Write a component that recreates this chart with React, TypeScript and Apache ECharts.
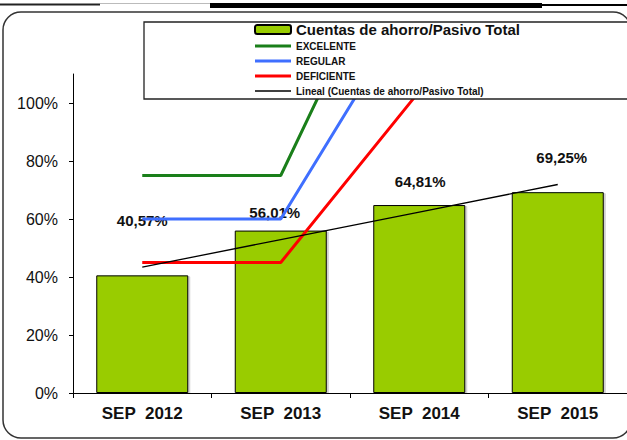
import React, { useEffect, useRef } from "react";
import * as echarts from "echarts";

const categories = ["SEP  2012", "SEP  2013", "SEP  2014", "SEP  2015"];
const ratioValues = [40.57, 56.01, 64.81, 69.25];
const excelente = [75, 75, 175, null];
const regular = [60, 60, 138, null];
const deficiente = [45, 45, 104, null];
const trendValues = [43.4, 52.9, 62.4, 71.9];
const yTicks = [0, 20, 40, 60, 80, 100];

const BAR_NAME = "Cuentas de ahorro/Pasivo Total";
const TREND_NAME = "Lineal (Cuentas de ahorro/Pasivo Total)";
const labelOffsets: [number, number][] = [
  [0, -42],
  [-6, -6],
  [1, -11.5],
  [4, -22.5],
];

const FONT = 'Arial, "Liberation Sans", sans-serif';
const THICK_LINE_ICON = "path://M0,0H36V3H0Z";
const THIN_LINE_ICON = "path://M0,0H36V1.4H0Z";

export default function App() {
  const ref = useRef<HTMLDivElement>(null);
  useEffect(() => {
    if (!ref.current) return;
    const chart = echarts.init(ref.current, null, { renderer: "svg" });
    const fmt = (v: number) => v.toFixed(2).replace(".", ",") + "%";
    chart.setOption({
      animation: false,
      textStyle: { fontFamily: FONT },
      grid: { left: 73, top: 74, width: 556, height: 319, containLabel: false },
      legend: {
        orient: "vertical",
        left: 254,
        top: 22,
        padding: 0,
        itemWidth: 36,
        itemHeight: 9,
        itemGap: 3,
        selectedMode: false,
        symbolKeepAspect: true,
        z: 5,
        textStyle: { fontFamily: FONT, fontWeight: "bold", fontSize: 10, color: "#111", lineHeight: 12 },
        data: [
          { name: BAR_NAME, textStyle: { fontSize: 15, fontWeight: "bold", lineHeight: 11 } },
          { name: "EXCELENTE", icon: THICK_LINE_ICON, itemStyle: { borderWidth: 0 } },
          { name: "REGULAR", icon: THICK_LINE_ICON, itemStyle: { borderWidth: 0 } },
          { name: "DEFICIENTE", icon: THICK_LINE_ICON, itemStyle: { borderWidth: 0 } },
          { name: TREND_NAME, icon: THIN_LINE_ICON, itemStyle: { borderWidth: 0 } },
        ],
      },
      xAxis: {
        type: "category",
        data: categories,
        boundaryGap: true,
        axisLine: { lineStyle: { color: "#000", width: 1 } },
        axisTick: { show: true, length: 5, lineStyle: { color: "#000" } },
        axisLabel: { fontFamily: FONT, fontWeight: "bold", fontSize: 17, color: "#111", margin: 12 },
        splitLine: { show: false },
      },
      yAxis: {
        type: "value",
        min: 0,
        max: 110,
        interval: 20,
        axisLine: { show: true, lineStyle: { color: "#000", width: 1 } },
        axisTick: { show: true, length: 4, customValues: yTicks, lineStyle: { color: "#000" } },
        axisLabel: {
          fontFamily: FONT,
          fontSize: 16,
          color: "#111",
          margin: 15,
          customValues: yTicks,
          formatter: (v: number) => v + "%",
        },
        splitLine: { show: false },
      },
      graphic: [
        {
          type: "rect",
          z: -1,
          shape: { x: 3, y: 12, width: 628, height: 426, r: 18 },
          style: { fill: "none", stroke: "#333", lineWidth: 1.5 },
          silent: true,
        },
        { type: "rect", z: 1, shape: { x: 0, y: 3.5, width: 100, height: 2 }, style: { fill: "#222" }, silent: true },
        { type: "rect", z: 1, shape: { x: 100, y: 3, width: 110, height: 1 }, style: { fill: "#bbb" }, silent: true },
        { type: "rect", z: 1, shape: { x: 210, y: 3, width: 332, height: 5 }, style: { fill: "#000" }, silent: true },
        { type: "rect", z: 1, shape: { x: 542, y: 4, width: 90, height: 2 }, style: { fill: "#000" }, silent: true },
        {
          type: "rect",
          z: 3,
          shape: { x: 144, y: 22, width: 500, height: 77 },
          style: { fill: "#fff", stroke: "#222", lineWidth: 1.3 },
          silent: true,
        },
      ],
      series: [
        {
          name: BAR_NAME,
          type: "bar",
          barWidth: 92,
          z: 1,
          itemStyle: {
            color: "#99CC00",
            borderColor: "#000",
            borderWidth: 1,
            shadowColor: "rgba(0,0,0,0.18)",
            shadowOffsetX: 2,
            shadowOffsetY: 1,
            shadowBlur: 0,
          },
          label: {
            show: true,
            position: "top",
            distance: 5,
            fontFamily: FONT,
            fontWeight: "bold",
            fontSize: 15,
            color: "#111",
            formatter: (p: any) => fmt(p.value),
          },
          data: ratioValues.map((v, i) => ({ value: v, label: { offset: labelOffsets[i] } })),
        },
        {
          name: "EXCELENTE",
          type: "line",
          symbol: "none",
          z: 2,
          lineStyle: { color: "#1A7F1A", width: 3 },
          itemStyle: { color: "#1A7F1A" },
          data: excelente,
        },
        {
          name: "REGULAR",
          type: "line",
          symbol: "none",
          z: 2,
          lineStyle: { color: "#3F6FFF", width: 3 },
          itemStyle: { color: "#3F6FFF" },
          data: regular,
        },
        {
          name: "DEFICIENTE",
          type: "line",
          symbol: "none",
          z: 2,
          lineStyle: { color: "#FF0000", width: 3 },
          itemStyle: { color: "#FF0000" },
          data: deficiente,
        },
        {
          name: TREND_NAME,
          type: "line",
          symbol: "none",
          z: 2,
          lineStyle: { color: "#000", width: 1.3 },
          itemStyle: { color: "#000" },
          data: trendValues,
        },
      ],
    });
    return () => chart.dispose();
  }, []);
  return (
    <div
      ref={ref}
      style={{ position: "absolute", left: 0, top: 0, width: 627, height: 440, background: "#fff" }}
    />
  );
}
